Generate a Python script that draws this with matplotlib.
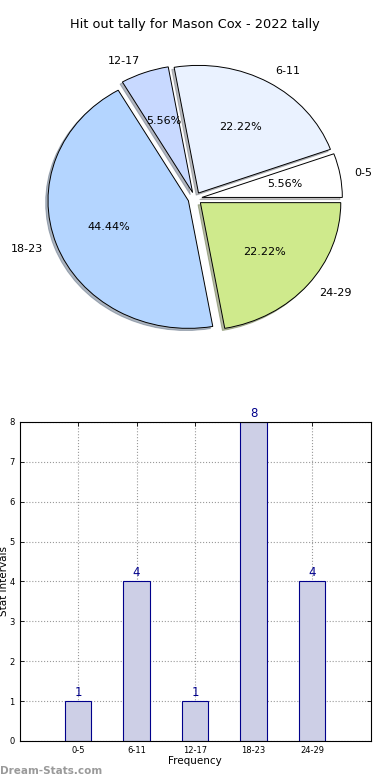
import matplotlib
matplotlib.use("Agg")
import matplotlib.pyplot as plt

categories = ["0-5", "6-11", "12-17", "18-23", "24-29"]
counts = [1, 4, 1, 8, 4]
pie_colors = ["#ffffff", "#eaf2ff", "#c8d9ff", "#b4d5ff", "#cfea8c"]
title = "Hit out tally for Mason Cox - 2022 tally"

fig = plt.figure(figsize=(3.9, 7.8), dpi=100)
fig.subplots_adjust(left=0.05, right=0.95, bottom=0.05, top=0.95, hspace=0.2)

ax1 = fig.add_subplot(2, 1, 1)
ax1.pie(counts, labels=categories, colors=pie_colors, autopct="%1.2f%%",
        explode=[0.05] * len(counts),
        shadow={"ox": -0.012, "oy": -0.012, "shade": 0.5},
        startangle=0,
        wedgeprops=dict(edgecolor="black", linewidth=0.7),
        textprops=dict(fontsize=8))
ax1.set_aspect("auto")
ax1.set_xlim(-1.25, 1.25)
ax1.set_ylim(-1.25, 1.25)
ax1.set_title(title, fontsize=9.3, pad=8)

ax2 = fig.add_subplot(2, 1, 2)
x = list(range(len(categories)))
ax2.bar(x, counts, width=0.45, color="#cdcfe6", edgecolor="#00008b", linewidth=0.8, zorder=2)
for xi, c in zip(x, counts):
    ax2.text(xi, c + 0.05, str(c), ha="center", va="bottom", color="#00008b", fontsize=8.5)
ax2.set_xlim(-1, 5)
ax2.set_ylim(0, 8)
ax2.set_xticks(x)
ax2.set_xticklabels(categories, fontsize=6)
ax2.set_yticks(range(0, 9))
ax2.tick_params(axis="both", labelsize=6, direction="in", top=True, right=True, length=3, width=0.6)
ax2.grid(True, linestyle=":", color="#999999", linewidth=0.8, zorder=0)
ax2.set_axisbelow(True)
ax2.set_xlabel("Frequency", fontsize=7.5, labelpad=1)
ax2.set_ylabel("Stat Intervals", fontsize=7.5, labelpad=0)
for s in ax2.spines.values():
    s.set_linewidth(0.8)

fig.text(0.0, 0.012, "Dream-Stats.com", fontsize=7.5, color="#9a9a9a", fontweight="bold", ha="left", va="center")

fig.savefig("out.png", dpi=100)
